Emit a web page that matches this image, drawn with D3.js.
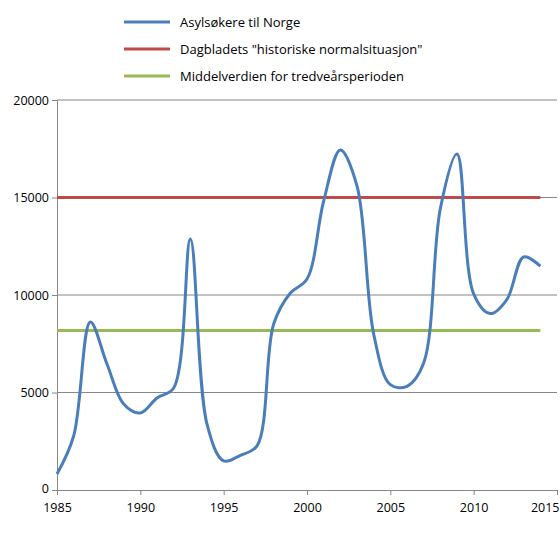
<!DOCTYPE html>
<html><head><meta charset="utf-8">
<script src="https://cdn.jsdelivr.net/npm/d3@7"></script>
<style>body{margin:0;background:#fff}text{font-family:"Open Sans","Liberation Sans",sans-serif}</style>
</head><body><svg id="c" width="560" height="540"></svg>
<script>
// Data
const years = d3.range(1985, 2015);
const asylum = [820, 2770, 8620, 6460, 4410, 3950, 4720, 5230, 12870, 3380,
  1490, 1780, 2260, 8510, 10100, 10820, 14820, 17440, 15590, 8000,
  5400, 5320, 6510, 14430, 17230, 10060, 9050, 9780, 11950, 11480];
const normal = 15000;
const mean = 8180;
const xTicks = [1985, 1990, 1995, 2000, 2005, 2010, 2015];
const yTicks = [0, 5000, 10000, 15000, 20000];
const legendLabels = ['Asylsøkere til Norge', 'Dagbladets "historiske normalsituasjon"', 'Middelverdien for tredveårsperioden'];
const colors = ['#4a7ebb', '#be4b48', '#98b954'];

const svg = d3.select('#c');
const x = d3.scaleLinear().domain([1985, 2015]).range([57, 557]);
const y = d3.scaleLinear().domain([0, 20000]).range([490, 100]);

// gridlines
svg.append('g').selectAll('line').data(yTicks.slice(1)).join('line')
  .attr('x1', 57).attr('x2', 557).attr('y1', d => y(d)).attr('y2', d => y(d))
  .attr('stroke', '#868686').attr('stroke-width', 1);

const gx = svg.append('g').attr('transform', 'translate(0,490)')
  .call(d3.axisBottom(x).tickValues(xTicks).tickFormat(d3.format('d')).tickSize(5).tickSizeOuter(0));
const gy = svg.append('g').attr('transform', 'translate(57,0)')
  .call(d3.axisLeft(y).tickValues(yTicks).tickFormat(d3.format('d')).tickSize(5).tickSizeOuter(0));
[gx, gy].forEach(g => {
  g.select('.domain').attr('stroke', '#868686');
  g.selectAll('line').attr('stroke', '#868686');
  g.selectAll('text').attr('font-size', 12.5).attr('fill', '#000');
});
gx.selectAll('text').attr('dy', '1.15em');
gx.selectAll('.tick').filter(d => d === 2015).select('text').attr('text-anchor', 'end').attr('x', 2);
gy.selectAll('.tick').filter(d => d === 0).select('text').attr('dy', '0.2em');

// reference lines
svg.append('line').attr('x1', x(1985)).attr('x2', x(2014)).attr('y1', y(normal)).attr('y2', y(normal))
  .attr('stroke', colors[1]).attr('stroke-width', 3);
svg.append('line').attr('x1', x(1985)).attr('x2', x(2014)).attr('y1', y(mean)).attr('y2', y(mean))
  .attr('stroke', colors[2]).attr('stroke-width', 3);

// main series
svg.append('path').datum(years.map((yr, i) => [yr, asylum[i]]))
  .attr('d', d3.line().x(d => x(d[0])).y(d => y(d[1])).curve(d3.curveCatmullRom.alpha(0.5)))
  .attr('fill', 'none').attr('stroke', colors[0]).attr('stroke-width', 3);

// legend
const lg = svg.append('g').selectAll('g').data(legendLabels).join('g')
  .attr('transform', (d, i) => `translate(124,${22 + i * 27})`);
lg.append('line').attr('x1', 0).attr('x2', 46).attr('stroke', (d, i) => colors[i]).attr('stroke-width', 3);
lg.append('text').attr('x', 56).attr('dy', '0.35em').attr('font-size', 13).text(d => d);
</script></body></html>
